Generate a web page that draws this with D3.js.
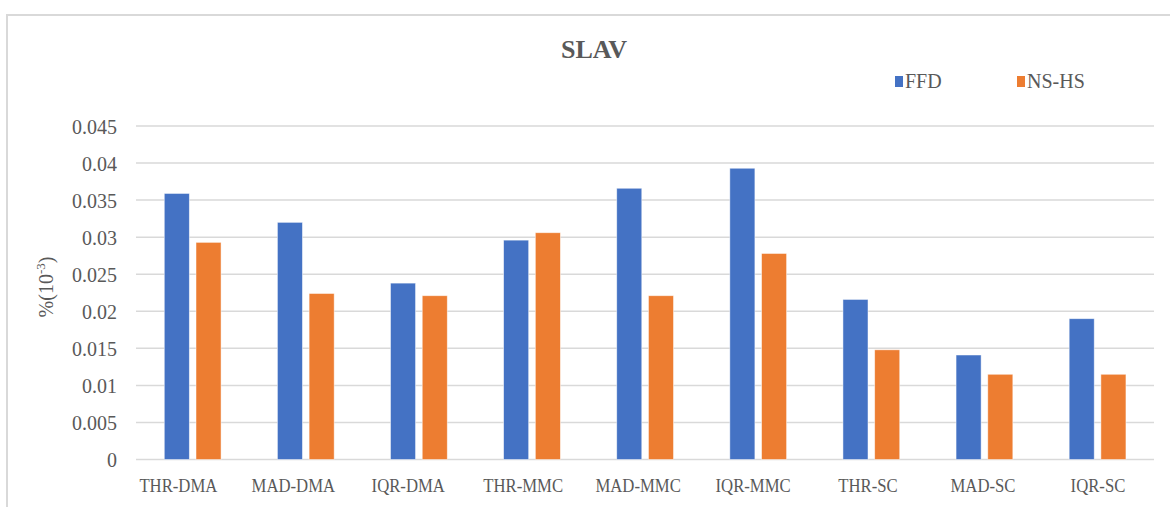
<!DOCTYPE html>
<html>
<head>
<meta charset="utf-8">
<script src="https://cdn.jsdelivr.net/npm/d3@7"></script>
<style>
  html, body { margin: 0; padding: 0; background: #fff; }
  svg { display: block; }
  text { font-family: "Liberation Serif", "Times New Roman", serif; fill: #595959; }
</style>
</head>
<body>
<svg id="chart" width="1170" height="507"></svg>
<script>
// SLAV per placement scheme and detection/selection policy
const categories = ["THR-DMA", "MAD-DMA", "IQR-DMA", "THR-MMC", "MAD-MMC", "IQR-MMC", "THR-SC", "MAD-SC", "IQR-SC"];
const seriesNames = ["FFD", "NS-HS"];
const ffd   = [0.0359, 0.0320, 0.0238, 0.0296, 0.0366, 0.0393, 0.0216, 0.0141, 0.0190];
const nshs  = [0.0293, 0.0224, 0.0221, 0.0306, 0.0221, 0.0278, 0.0148, 0.0115, 0.0115];
const yTicks = [0, 0.005, 0.01, 0.015, 0.02, 0.025, 0.03, 0.035, 0.04, 0.045];
const yTickLabels = ["0", "0.005", "0.01", "0.015", "0.02", "0.025", "0.03", "0.035", "0.04", "0.045"];
const colors = ["#4472C4", "#ED7D31"];

const rows = categories.map((c, i) => ({ cat: c, values: [ffd[i], nshs[i]] }));

const svg = d3.select("#chart");
const plot = { left: 136, right: 1154, top: 126, bottom: 459.5 };

// chart frame
svg.append("rect")
  .attr("x", 7).attr("y", 15).attr("width", 1180).attr("height", 510)
  .attr("fill", "none").attr("stroke", "#d9d9d9").attr("stroke-width", 2);

const x0 = d3.scaleBand().domain(categories).range([plot.left, plot.right]).paddingInner(0).paddingOuter(0);
const x1 = d3.scaleBand().domain(seriesNames)
  .range([x0.bandwidth() * 0.25, x0.bandwidth() * 0.752]).paddingInner(0.21).paddingOuter(0);
const y = d3.scaleLinear().domain([0, 0.045]).range([plot.bottom, plot.top]);

// gridlines
svg.append("g").selectAll("line").data(yTicks).join("line")
  .attr("x1", plot.left).attr("x2", plot.right)
  .attr("y1", d => y(d)).attr("y2", d => y(d))
  .attr("stroke", "#d9d9d9").attr("stroke-width", 1.5);

// y axis labels
const yAxis = svg.append("g").attr("transform", `translate(117,0)`)
  .call(d3.axisLeft(y).tickValues(yTicks).tickFormat((d, i) => yTickLabels[i]).tickSize(0).tickPadding(0));
yAxis.select(".domain").remove();
yAxis.selectAll("text")
  .style("font-family", '"Liberation Serif", serif')
  .attr("font-size", 20).attr("fill", "#595959")
  .attr("dy", "0.36em");

// bars
const groups = svg.append("g").selectAll("g").data(rows).join("g")
  .attr("transform", d => `translate(${x0(d.cat)},0)`);
groups.selectAll("rect").data(d => d.values.map((v, k) => ({ k, v }))).join("rect")
  .attr("x", d => x1(seriesNames[d.k]))
  .attr("width", x1.bandwidth())
  .attr("y", d => y(d.v))
  .attr("height", d => y(0) - y(d.v))
  .attr("fill", d => colors[d.k])
  .attr("stroke", "#ffffff").attr("stroke-opacity", 0.6).attr("stroke-width", 0.8);

// x category labels
const xl = d3.scalePoint().domain(categories)
  .range([x0(categories[0]) + x0.bandwidth() * 0.37, x0(categories[8]) + x0.bandwidth() * 0.5]);
const xAxis = svg.append("g").attr("transform", `translate(0,${plot.bottom})`)
  .call(d3.axisBottom(xl).tickSize(0).tickPadding(0));
xAxis.select(".domain").remove();
xAxis.selectAll("text")
  .style("font-family", '"Liberation Serif", serif')
  .attr("font-size", 19).attr("fill", "#595959")
  .attr("y", 33).attr("dy", 0)
  .attr("transform", "scale(0.88,1)");

// y axis title
const yt = svg.append("text")
  .attr("transform", "translate(53,287) rotate(-90)")
  .attr("text-anchor", "middle").attr("font-size", 20);
yt.append("tspan").text("%(10");
yt.append("tspan").attr("font-size", 13).attr("dy", -8).text("-3");
yt.append("tspan").attr("dy", 8).text(")");

// title
svg.append("text").attr("x", 594).attr("y", 58).attr("text-anchor", "middle")
  .attr("font-size", 26).attr("font-weight", "bold").text("SLAV");

// legend
const legend = svg.append("g").selectAll("g").data(seriesNames).join("g")
  .attr("transform", (d, i) => `translate(${895 + i * 122},0)`);
legend.append("rect").attr("x", 0).attr("y", 76).attr("width", 8).attr("height", 11)
  .attr("fill", (d, i) => colors[i]);
legend.append("text").attr("x", 10).attr("y", 88).attr("font-size", 20).text(d => d);
</script>
</body>
</html>
